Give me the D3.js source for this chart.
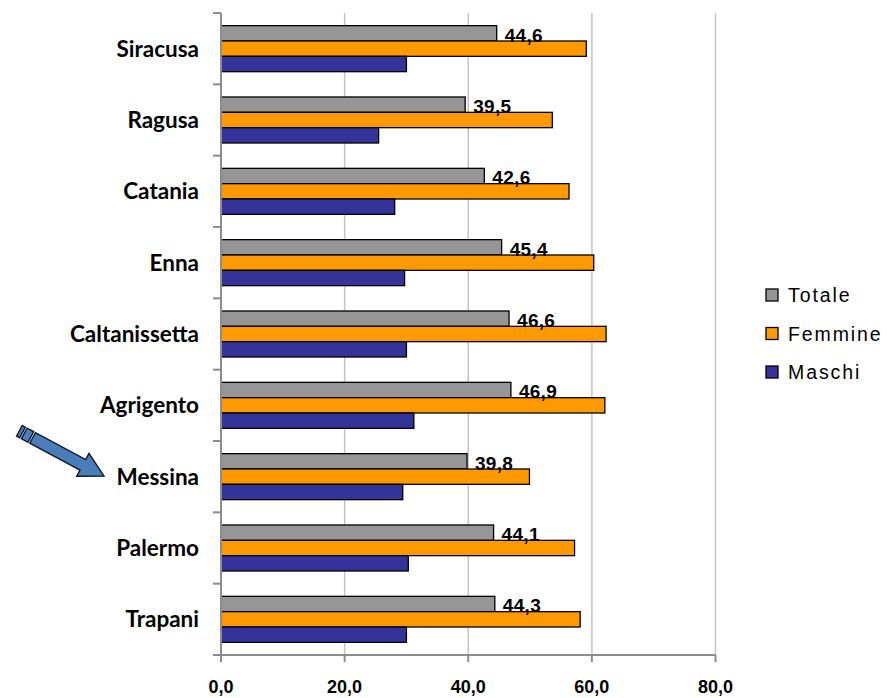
<!DOCTYPE html>
<html>
<head>
<meta charset="utf-8">
<script src="https://cdn.jsdelivr.net/npm/d3@7"></script>
<style>
  html, body { margin: 0; padding: 0; background: #fff; }
  svg { display: block; }
</style>
</head>
<body>
<svg id="chart" width="887" height="698"></svg>
<script>
const categories = ["Siracusa", "Ragusa", "Catania", "Enna", "Caltanissetta", "Agrigento", "Messina", "Palermo", "Trapani"];
const seriesNames = ["Totale", "Femmine", "Maschi"];
const totale  = [44.6, 39.5, 42.6, 45.4, 46.6, 46.9, 39.8, 44.1, 44.3];
const femmine = [59.1, 53.6, 56.3, 60.3, 62.3, 62.1, 49.9, 57.2, 58.1];
const maschi  = [30.0, 25.5, 28.1, 29.7, 30.0, 31.2, 29.4, 30.3, 30.0];
const xTicks = [0, 20, 40, 60, 80];
const xTickLabels = ["0,0", "20,0", "40,0", "60,0", "80,0"];
const highlighted = "Messina";

const seriesValues = [totale, femmine, maschi];
const colors = ["#969696", "#FF9900", "#333399"];
const arialFont = "'Liberation Sans', Arial, Helvetica, sans-serif";

const svg = d3.select("#chart");
const plot = { left: 221, right: 715.5, top: 13, bottom: 655 };

const x = d3.scaleLinear().domain([0, 80]).range([plot.left, plot.right]);
const y = d3.scaleBand().domain(categories).range([plot.top, plot.bottom])
  .paddingInner(0.355).paddingOuter(0.1775);
const ySub = d3.scaleBand().domain(seriesNames).range([0, y.bandwidth()]);
const step = y.step();

// gridlines
svg.append("g").selectAll("line").data(xTicks.slice(1)).join("line")
  .attr("x1", d => x(d)).attr("x2", d => x(d))
  .attr("y1", plot.top).attr("y2", plot.bottom)
  .attr("stroke", "#c4c4c4").attr("stroke-width", 1.5);

// bars
const groups = svg.append("g").selectAll("g").data(categories).join("g")
  .attr("transform", c => `translate(0,${y(c)})`);
groups.selectAll("rect")
  .data((c, i) => seriesNames.map((s, k) => ({ s, v: seriesValues[k][i], k })))
  .join("rect")
  .attr("x", x(0))
  .attr("y", d => ySub(d.s))
  .attr("width", d => x(d.v) - x(0))
  .attr("height", ySub.bandwidth())
  .attr("fill", d => colors[d.k])
  .attr("stroke", "#000").attr("stroke-width", 1.3);

// data labels for Totale
const fmt = v => d3.format(".1f")(v).replace(".", ",");
groups.append("text")
  .attr("x", (c, i) => x(totale[i]) + 8)
  .attr("y", ySub("Totale") + 16)
  .attr("font-family", arialFont)
  .attr("font-weight", "bold").attr("font-size", 19)
  .attr("letter-spacing", 0.3)
  .attr("fill", "#000")
  .text((c, i) => fmt(totale[i]));

// y axis line and ticks (category boundaries)
const axisColor = "#8c8c8c";
svg.append("line").attr("x1", plot.left).attr("x2", plot.left)
  .attr("y1", plot.top).attr("y2", plot.bottom + 6)
  .attr("stroke", axisColor).attr("stroke-width", 2);
const bounds = d3.range(categories.length + 1).map(i => plot.top + i * step);
svg.append("g").selectAll("line").data(bounds).join("line")
  .attr("x1", plot.left - 8).attr("x2", plot.left)
  .attr("y1", d => d).attr("y2", d => d)
  .attr("stroke", axisColor).attr("stroke-width", 2);

// x axis line and ticks
svg.append("line").attr("x1", plot.left - 8).attr("x2", plot.right)
  .attr("y1", plot.bottom).attr("y2", plot.bottom)
  .attr("stroke", axisColor).attr("stroke-width", 2);
svg.append("g").selectAll("line").data(xTicks).join("line")
  .attr("x1", d => x(d)).attr("x2", d => x(d))
  .attr("y1", plot.bottom).attr("y2", plot.bottom + 7)
  .attr("stroke", axisColor).attr("stroke-width", 2);
svg.append("g").selectAll("text").data(xTicks).join("text")
  .attr("x", d => x(d)).attr("y", 693)
  .attr("text-anchor", "middle")
  .attr("font-family", arialFont)
  .attr("font-weight", "bold").attr("font-size", 18)
  .text((d, i) => xTickLabels[i]);

// category labels
svg.append("g").selectAll("text").data(categories).join("text")
  .attr("x", 199).attr("y", c => y(c) + y.bandwidth() / 2)
  .attr("dy", "0.36em")
  .attr("text-anchor", "end")
  .attr("font-family", "Lato, 'Open Sans', sans-serif")
  .attr("font-weight", "bold").attr("font-size", 22.5)
  .attr("fill", "#000")
  .text(c => c);

// legend
const legend = svg.append("g").selectAll("g").data(seriesNames).join("g")
  .attr("transform", (s, i) => `translate(766,${295 + i * 38.5})`);
legend.append("rect").attr("x", 0).attr("y", -6).attr("width", 12).attr("height", 12)
  .attr("fill", (s, i) => colors[i]).attr("stroke", "#000").attr("stroke-width", 1.3);
legend.append("text").attr("x", 22).attr("y", 0).attr("dy", "0.36em")
  .attr("font-family", arialFont)
  .attr("font-size", 19.5).attr("letter-spacing", 1.9)
  .attr("fill", "#000")
  .text(s => s);

// arrow pointing at the highlighted category
const tipX = 104, tipY = y(highlighted) + y.bandwidth() / 2 - 0.5;
const ang = 28.2;
const arrow = svg.append("g").attr("transform", `translate(${tipX},${tipY}) rotate(${ang})`);
const L = 96, hl = 24, hw = 13, sw = 6;
const fillA = "#4a7ebb", strokeA = "#111a2a";
arrow.append("path")
  .attr("d", `M0,0 L${-hl},${-hw} L${-hl},${-sw} L${-L + 15},${-sw} L${-L + 15},${sw} L${-hl},${sw} L${-hl},${hw} Z`)
  .attr("fill", fillA).attr("stroke", strokeA).attr("stroke-width", 1.4).attr("stroke-linejoin", "miter");
arrow.append("rect").attr("x", -L + 5.5).attr("y", -sw).attr("width", 7.5).attr("height", 2 * sw)
  .attr("fill", fillA).attr("stroke", strokeA).attr("stroke-width", 1.4);
arrow.append("rect").attr("x", -L).attr("y", -sw).attr("width", 3.5).attr("height", 2 * sw)
  .attr("fill", fillA).attr("stroke", strokeA).attr("stroke-width", 1.4);
</script>
</body>
</html>
